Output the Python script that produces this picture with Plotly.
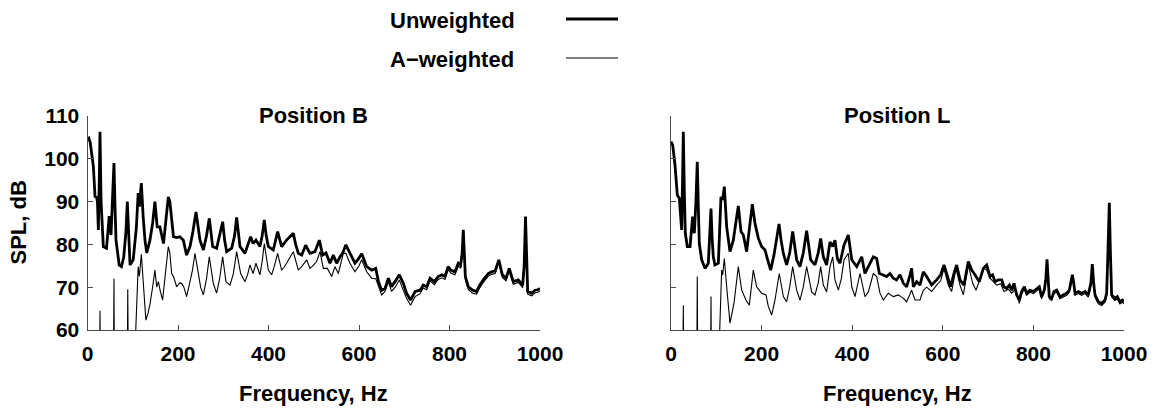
import plotly.graph_objects as go

# ---------------- data ----------------
freq_B_unw = [0, 3, 6, 10, 13, 16.6, 20, 22, 24, 26, 27.6, 30, 35, 42, 48, 50, 52, 55, 58.5, 61, 63, 70, 75, 80, 85, 88, 91, 94, 101, 108,
              112, 114.6, 117, 119, 123, 127, 131, 138, 144, 149, 154, 160, 168, 174, 178.6, 182, 186, 190, 197, 204, 211.8, 219,
              226.5, 233, 239.8, 244, 248.6, 256, 263, 269.2, 276.6, 285.4, 292, 298.7, 303, 307.5, 318.6, 325, 329.6, 337, 348,
              355.4, 360.5, 366, 372.3, 381, 386, 390.7, 395, 399.6, 410.6, 420.2, 429, 440, 448, 454.8, 460, 465.9, 473.3, 482.1,
              491.7, 502.7, 512.3, 519.7, 527, 535.9, 543.2, 550.6, 558, 564, 571, 580, 591, 598, 606, 617, 628, 637, 643, 650,
              657.5, 665, 672, 679.5, 689, 698, 705, 714, 724, 735, 742, 749.5, 757, 766.5, 775, 783, 790, 797, 803, 812, 819.5,
              824.6, 828, 830.5, 833, 835, 841.6, 851, 860, 867, 874.7, 885.8, 893, 901, 909, 916.7, 924.8, 932, 941, 952, 961.7,
              965, 968, 970.5, 972.7, 981.5, 989, 995, 1000]
spl_B_unw = [104.5, 104.8, 103.8, 100.5, 98.2, 91.2, 91, 90, 83.4, 95, 106.3, 90, 79.5, 79.1, 86.6, 84, 82.2, 90, 99, 88, 81, 75.2, 74.8,
             77, 83, 90, 82, 75.2, 76.4, 84, 92, 88.8, 92, 94.3, 86.5, 81, 78, 81, 85, 90, 84.1, 84.1, 80.2, 86, 91.1, 90, 85.6,
             81.8, 81.6, 81.8, 81, 77.5, 79.5, 83, 87.6, 84, 81, 78.7, 82, 86.1, 79.5, 79.1, 82, 85.3, 81, 78.3, 79.1, 82, 86.3,
             79.5, 77.9, 80.2, 81.8, 80.2, 81, 79.5, 82, 85.7, 82, 79.5, 78.7, 83, 79.5, 81, 82, 82.6, 80, 77.9, 77.5, 79.8, 77.9,
             78.3, 81, 77.5, 78, 75.6, 77.5, 75.6, 77.1, 78, 79.9, 77.9, 75.6, 76.5, 77.8, 74.8, 74, 74.4, 71.3, 69.3, 69.7, 72.1,
             70.1, 71.3, 72.9, 70.9, 68.6, 67, 69, 69.3, 70.5, 70.1, 72.1, 71.3, 72.5, 72.9, 72.5, 74.8, 74, 73.6, 75.6, 75.2, 78,
             83.4, 78, 72.5, 70.1, 69.3, 69, 70.5, 71.7, 73.2, 73.6, 73.8, 76.4, 72.9, 72.1, 74.4, 71.3, 71.7, 70.5, 75, 86.5, 75,
             69, 68.6, 69.3, 69.4, 69.7]

freq_B_a = [0, 26, 27.6, 29, 57, 58.5, 60, 87.5, 89, 90.5, 103, 108, 112, 114.6, 119, 124, 129, 134, 138, 144, 149, 153, 156.6, 161,
            166, 172, 178.6, 182, 186, 190, 197, 204, 208, 213, 219, 226.5, 232, 237.5, 245, 250, 256, 263, 269.2, 278, 285.4,
            292, 298.7, 306, 314.9, 322, 329.6, 338.5, 348, 354, 359, 366, 372.3, 381, 386, 390.7, 399.6, 407, 413, 420.2, 429,
            434, 440, 448, 454.8, 465.9, 473.3, 484.3, 491.7, 498, 506.4, 513.8, 521.1, 530, 539.6, 547, 554.3, 565.3, 571, 580,
            591, 600, 606, 617, 628, 637, 643, 650, 657.5, 665, 672, 680, 689, 698, 705, 714, 724, 735, 742, 749.5, 757, 766.5,
            775, 783, 790, 797, 803, 812, 819.5, 824.6, 828, 830.5, 833, 835, 841.6, 851, 860, 867, 874.7, 885.8, 893, 901, 909,
            916.7, 924.8, 932, 941, 952, 961.7, 965, 968, 970.5, 972.7, 981.5, 989, 995, 1000]
spl_B_a = [40, 40, 64.5, 40, 40, 72, 40, 45, 69.5, 45, 50, 62, 74.8, 72.5, 77.7, 70, 62.3, 64, 66, 70.1, 74, 70, 71.3, 69, 67, 73,
           79.5, 78, 73.2, 72.5, 70.1, 71, 70.9, 70, 67.8, 71.3, 74, 77.9, 72.5, 70, 68.2, 72, 77.1, 70.9, 68.6, 72, 77.1, 71.3,
           70.5, 73, 78.3, 73.2, 71.3, 73, 75.2, 73.2, 75.6, 72.9, 76, 80.2, 74, 72.9, 75, 77.9, 74, 74.6, 75.6, 77, 78.3, 74,
           74.8, 76.4, 74.4, 75, 76, 78.3, 74.4, 74.4, 72.5, 74.8, 73.2, 77.9, 77.9, 75.6, 73.6, 75, 76.4, 73.6, 72.1, 72, 70,
           68.2, 69, 71.3, 69, 70, 71.7, 69.5, 67.4, 65.8, 67.8, 68.5, 69.8, 69.4, 71.5, 70.6, 71.8, 72.2, 71.8, 74.1, 73.3, 72.9,
           74.9, 74.5, 77.3, 82.7, 77.3, 71.8, 69.4, 68.6, 68.4, 69.9, 71.1, 72.6, 73, 73.2, 75.8, 72.3, 71.5, 73.8, 70.7, 71.1,
           69.9, 74.4, 85.9, 74.4, 68.4, 68, 68.7, 68.8, 69.1]

freq_L_unw = [0, 3.7, 8.8, 14, 18.4, 21.3, 23.5, 25.5, 27.2, 29.5, 31.6, 36, 42, 47.8, 51.5, 55, 58, 60.5, 62.5, 67.7, 75, 82.4, 86,
              88.3, 90.5, 93.4, 97, 104.5, 110.3, 114, 117.7, 122.9, 130.2, 137.6, 143, 148.6, 154.5, 159.7, 167, 174, 179.5,
              185.4, 192.8, 200, 207.5, 212.6, 220, 227.3, 233, 238.4, 243, 248, 255.3, 262, 268.6, 277.4, 284.7, 292, 299.4,
              308.3, 317.8, 325, 330.4, 336.3, 343.6, 351, 357, 362, 367.2, 373, 382, 391.4, 399, 410, 421, 428.2, 435.6, 446.6,
              454, 460, 467.2, 476, 483.4, 490.8, 498, 505.5, 513, 520.2, 528, 531.2, 535, 542.3, 549.6, 557, 564.4, 575.4, 586.4,
              595.3, 602.6, 610, 617.3, 624.7, 630.6, 638, 646.8, 656.3, 663.7, 671, 680.6, 689.4, 696.8, 704.2, 710, 715.2,
              722.6, 730, 735, 741, 747, 752, 757.2, 763, 769, 774, 780, 785, 792.5, 800, 807, 813, 818, 824, 827.5, 830, 832.5,
              835, 840.3, 845.5, 851.3, 858.7, 866, 873.4, 879.3, 883, 886, 889, 891.8, 899.2, 906.5, 914, 921.2, 927, 930, 933,
              936, 943.3, 950.7, 958, 961.7, 964.5, 967.6, 970, 972.7, 980, 985.2, 991, 997, 1000]
spl_L_unw = [104, 103.2, 98.6, 91.5, 90.8, 87.3, 83.4, 95, 106.3, 92, 82.6, 79.5, 79.5, 86.5, 82.6, 90, 99.3, 88, 80.2, 76.4, 74.4,
             75.6, 82, 88.4, 82, 77.1, 75.2, 75.6, 91.1, 90.4, 93.5, 84.1, 78.3, 81, 85, 89, 83, 82.2, 78.3, 84, 89.4, 84.9, 81.4,
             79.5, 78.7, 76.7, 74, 77.5, 81, 84.8, 81, 77.9, 75.2, 78, 83, 76.4, 74.8, 78, 83.2, 76.4, 75.2, 78, 81.4, 77.1, 75.2,
             80.6, 79.5, 81, 76.7, 75.6, 79.9, 82.2, 76.4, 74.8, 77.1, 73.2, 74.8, 77.1, 76.7, 73.2, 72.9, 72.5, 73.2, 72.1, 71.7,
             72.9, 70.9, 70.1, 73, 74.4, 70.1, 71.3, 70.5, 73.6, 72.5, 70.5, 71.7, 72.9, 75.2, 72.5, 70.1, 73.2, 75.2, 71.7, 70.5,
             76, 74, 72.9, 71.3, 74.4, 75.2, 72.5, 72.9, 71.3, 71.7, 71.7, 70.1, 69.7, 70.5, 69.3, 70.9, 68.2, 67, 69, 70.1, 68.6,
             69.3, 69, 69.7, 70.1, 67.8, 69.3, 72, 76.5, 72, 67.8, 67.4, 69, 69.3, 67.8, 68.2, 68.6, 69.3, 71, 72.9, 71, 68.6, 69,
             68.6, 69, 68.2, 71, 75.4, 71, 68.2, 66.6, 66.2, 67, 68.6, 78, 89.7, 78, 68.2, 67.4, 67.8, 66.6, 67, 66.6]

freq_L_a = [0, 25.5, 27.2, 29, 56.5, 58, 59.5, 87, 88.3, 89.5, 106, 111.8, 114, 117.7, 122.9, 130.2, 139, 148.6, 156, 165.5, 172.9,
            181.7, 189, 200, 209.7, 214.8, 222.2, 229.5, 239, 248, 255.3, 262, 268.6, 277.4, 284.7, 292, 299.4, 310.5, 317.8,
            325, 330.4, 336.3, 343.6, 351, 357, 362, 369.4, 376, 382, 391.4, 399, 406.2, 417.2, 428.2, 435.6, 446.6, 454, 461.3,
            468.7, 479.7, 490.8, 502, 513, 520.2, 531.2, 538.6, 549.6, 557, 564.4, 575.4, 586.4, 595.3, 602.6, 612, 619.5, 629,
            638, 645.3, 656.3, 666, 673.3, 682, 691, 697, 704.2, 711.5, 719, 728, 735, 745, 752, 760, 769, 774, 780, 785, 792.5,
            800, 807, 813, 818, 824, 827.5, 830, 832.5, 835, 840.3, 845.5, 851.3, 858.7, 866, 873.4, 879.3, 883, 886, 889, 891.8,
            899.2, 906.5, 914, 921.2, 927, 930, 933, 936, 943.3, 950.7, 958, 961.7, 964.5, 967.6, 970, 972.7, 980, 985.2, 991,
            997, 1000]
spl_L_a = [40, 40, 65.8, 40, 40, 72.5, 40, 45, 67.8, 45, 55, 74, 72.8, 76.7, 70.1, 61.6, 66.2, 74.8, 69.3, 67, 65.8, 74, 70.1, 68.6,
           68.2, 65.5, 63.5, 67, 73.2, 67.8, 66.6, 70, 74.8, 69.3, 67, 70, 74.8, 68.9, 68.2, 71, 74.8, 70.5, 68.9, 74.8, 77.1,
           71.7, 69.3, 72, 76.4, 77.9, 70.1, 67.8, 73.2, 67.8, 68.9, 73.2, 72.5, 68.6, 67, 68.6, 67.8, 68.2, 67.4, 66.6, 69.3, 67,
           67, 69.3, 70, 69, 70.5, 71.5, 74.4, 70.5, 69, 74.4, 70.5, 68.2, 75.2, 70.9, 69.3, 71.7, 74.4, 74, 72.1, 71.3, 70.5,
           70.8, 69, 69.5, 68.6, 69.5, 66.2, 68.5, 69.6, 68.1, 68.8, 68.5, 69.2, 69.6, 67.3, 68.8, 71.5, 76, 71.5, 67.3, 66.9,
           68.5, 68.8, 67.3, 67.7, 68.1, 68.8, 70.5, 72.4, 70.5, 68.1, 68.5, 68.1, 68.5, 67.7, 70.5, 74.9, 70.5, 67.7, 66.1, 65.7,
           66.5, 68.1, 77.5, 89.2, 77.5, 67.7, 66.9, 67.3, 66.1, 66.5, 66.1]

x_ticks = [0, 200, 400, 600, 800, 1000]
y_ticks = [60, 70, 80, 90, 100, 110]
panel_titles = ["Position B", "Position L"]
legend_labels = ["Unweighted", "A\u2212weighted"]

# ---------------- figure ----------------
W, H = 1156, 410
FONT = "Liberation Sans, Arial, Helvetica, sans-serif"
AX_COLOR = "#4a4a4a"

fig = go.Figure()
fig.add_trace(go.Scatter(x=freq_B_unw, y=spl_B_unw, mode="lines", line=dict(color="black", width=2.8),
                         xaxis="x", yaxis="y", showlegend=False))
fig.add_trace(go.Scatter(x=freq_B_a, y=spl_B_a, mode="lines", line=dict(color="black", width=1.1),
                         xaxis="x", yaxis="y", showlegend=False))
fig.add_trace(go.Scatter(x=freq_L_unw, y=spl_L_unw, mode="lines", line=dict(color="black", width=2.8),
                         xaxis="x2", yaxis="y2", showlegend=False))
fig.add_trace(go.Scatter(x=freq_L_a, y=spl_L_a, mode="lines", line=dict(color="black", width=1.1),
                         xaxis="x2", yaxis="y2", showlegend=False))

px = lambda v: v / W
py = lambda v: 1 - v / H

xdom1 = [px(87.5), px(540)]
xdom2 = [px(671), px(1124)]
ydom = [py(330), py(116)]

common_x = dict(range=[0, 1000], tickvals=x_ticks, ticks="inside", ticklen=5, tickcolor=AX_COLOR,
                showline=True, linecolor=AX_COLOR, linewidth=1, showgrid=False, zeroline=False,
                automargin=False, ticklabelstandoff=5,
                tickfont=dict(family=FONT, size=21, color="black", weight="bold"))
common_y = dict(range=[60, 110], tickvals=y_ticks, ticks="inside", ticklen=5, tickcolor=AX_COLOR,
                showline=True, linecolor=AX_COLOR, linewidth=1, showgrid=False, zeroline=False,
                automargin=False, ticklabelstandoff=3,
                tickfont=dict(family=FONT, size=21, color="black", weight="bold"))

fig.update_layout(
    template="none",
    width=W, height=H, autosize=False,
    margin=dict(l=0, r=0, t=0, b=0, pad=0),
    paper_bgcolor="white", plot_bgcolor="white",
    font=dict(family=FONT, color="black"),
    showlegend=False,
    xaxis=dict(domain=xdom1, anchor="y", **common_x),
    yaxis=dict(domain=ydom, anchor="x", **common_y),
    xaxis2=dict(domain=xdom2, anchor="y2", **common_x),
    yaxis2=dict(domain=ydom, anchor="x2", showticklabels=False, **{k: v for k, v in common_y.items() if k != "tickfont"}),
)

annos = []
tfont = dict(family=FONT, size=22, color="black", weight="bold")
for title, dom in zip(panel_titles, [xdom1, xdom2]):
    cx = (dom[0] + dom[1]) / 2
    annos.append(dict(text=title, x=cx, y=py(115), xref="paper", yref="paper",
                      xanchor="center", yanchor="middle", showarrow=False, font=tfont))
    annos.append(dict(text="Frequency, Hz", x=cx, y=py(393), xref="paper", yref="paper",
                      xanchor="center", yanchor="middle", showarrow=False, font=tfont))
annos.append(dict(text="SPL, dB", x=px(17.5), y=py(223), xref="paper", yref="paper", textangle=-90,
                  xanchor="center", yanchor="middle", showarrow=False, font=tfont))
# legend (text then line sample)
for lab, yy in zip(legend_labels, [20, 59]):
    annos.append(dict(text=lab, x=px(388), y=py(yy), xref="paper", yref="paper",
                      xanchor="left", yanchor="middle", showarrow=False, font=tfont))
fig.update_layout(annotations=annos)

fig.add_shape(type="line", xref="paper", yref="paper", x0=px(566), x1=px(618), y0=py(19), y1=py(19),
              line=dict(color="black", width=2.8))
fig.add_shape(type="line", xref="paper", yref="paper", x0=px(566), x1=px(618), y0=py(58), y1=py(58),
              line=dict(color="black", width=1.1))

fig.write_html("out.html",
               post_script="document.body.style.margin='0';document.body.style.overflow='hidden';")
